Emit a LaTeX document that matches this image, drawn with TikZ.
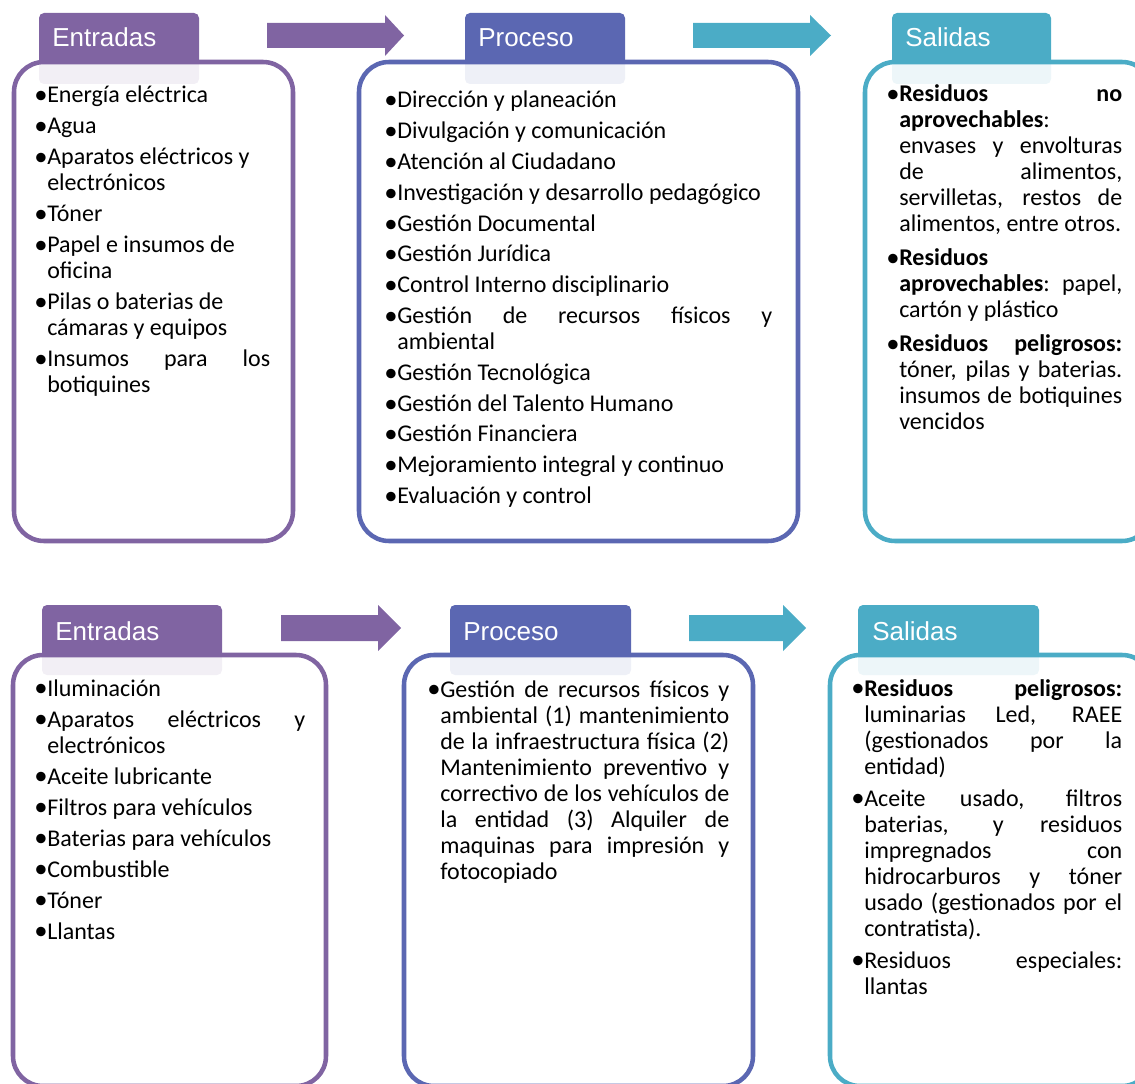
\documentclass[tikz,border=0pt]{standalone}
\usepackage{fontspec}
\setmainfont{Carlito}
\newfontfamily\tabfont{Liberation Sans}
\usepackage{tikz}

\definecolor{entcol}{HTML}{8064A2}
\definecolor{procol}{HTML}{5B67B2}
\definecolor{salcol}{HTML}{4BACC6}

\newcommand{\vineta}{\makebox[5.6pt][c]{\raisebox{-0.7pt}{\fontsize{20}{20}\selectfont •}}}
\newcommand{\itm}[1]{\par\hangindent=7.5pt\hangafter=1\noindent\makebox[7.5pt][l]{\vineta}#1}
\newcommand{\lista}[3]{\parbox[t]{#1}{\parindent=0pt\parskip=#2\relax
  \tolerance=10000\hbadness=10000\hyphenpenalty=10000\exhyphenpenalty=10000 #3}}

\tikzset{
  tabbox/.style={fill=#1, rounded corners=3.75pt},
  listbox/.style={draw=#1, line width=3.4pt, fill=white, fill opacity=0.9, rounded corners=22.5pt},
  tablabel/.style={anchor=base west, inner sep=0pt, text=white, font=\tabfont\fontsize{19.5}{23}\selectfont},
  itemlist/.style={anchor=base west, inner sep=0pt, font=\fontsize{18}{19.5}\selectfont},
}

\begin{document}
\begin{tikzpicture}[x=0.75pt,y=-0.75pt]
	\useasboundingbox (0,0) rectangle (1135,1084);
	\clip (0,0) rectangle (1135,1084);
	% pestanas
	\foreach \xa/\xb/\ya/\yb/\c in {39/199/13/84/entcol, 465/625/13/84/procol, 892/1051/13/84/salcol,
		42/222/605/675/entcol, 450/631/605/675/procol, 858/1039/605/675/salcol}
	{
		\fill[tabbox=\c] (\xa,\ya) rectangle (\xb,\yb);
	}
	% recuadros
	\foreach \xa/\xb/\ya/\yb/\c in {14/293/62/541/entcol, 359/798/62/541/procol, 865/1152/62/541/salcol,
		13/326/655/1086/entcol, 404/753/655/1086/procol, 830/1152/655/1086/salcol}
	{
		\filldraw[listbox=\c] (\xa,\ya) rectangle (\xb,\yb);
	}
	% flechas
	\foreach \xa/\xb/\xc/\ym/\s/\h/\c in {267/385/404/35.5/12.5/20.5/entcol, 693/810/831/35.5/12.5/20.5/salcol,
		281/378/401/628/13/23/entcol, 689/783/806/628/13/23/salcol}
	{
		\fill[\c] (\xa,\ym-\s) -- (\xb,\ym-\s) -- (\xb,\ym-\h) -- (\xc,\ym) -- (\xb,\ym+\h) -- (\xb,\ym+\s) -- (\xa,\ym+\s) -- cycle;
	}
	% titulos
	\node[tablabel] (entA) at (52,47) {Entradas};
	\node[tablabel] (proA) at (478,47) {Proceso};
	\node[tablabel] (salA) at (905,47) {Salidas};
	\node[tablabel] (entB) at (55,640) {Entradas};
	\node[tablabel] (proB) at (463,640) {Proceso};
	\node[tablabel] (salB) at (872,640) {Salidas};
	% listas
	\node[itemlist] (entListA) at (37,103) {\lista{174.75pt}{3.75pt}{%
		\itm{Energía eléctrica}
		\itm{Agua}
		\itm{Aparatos eléctricos y\newline electrónicos}
		\itm{Tóner}
		\itm{Papel e insumos de\newline oficina}
		\itm{Pilas o baterias de\newline cámaras y equipos}
		\itm{Insumos para los\linebreak botiquines}}};
	\node[itemlist] (proListA) at (387,108) {\lista{288.75pt}{3.6pt}{%
		\itm{Dirección y planeación}
		\itm{Divulgación y comunicación}
		\itm{Atención al Ciudadano}
		\itm{Investigación y desarrollo pedagógico}
		\itm{Gestión Documental}
		\itm{Gestión Jurídica}
		\itm{Control Interno disciplinario}
		\itm{Gestión de recursos físicos y\linebreak ambiental}
		\itm{Gestión Tecnológica}
		\itm{Gestión del Talento Humano}
		\itm{Gestión Financiera}
		\itm{Mejoramiento integral y continuo}
		\itm{Evaluación y control}}};
	\node[itemlist] (salListA) at (889,102) {\lista{174.75pt}{6pt}{%
		\itm{\textbf{Residuos no}\linebreak\textbf{aprovechables}:\newline envases y envolturas\linebreak de alimentos,\linebreak servilletas, restos de\linebreak alimentos, entre otros.}
		\itm{\textbf{Residuos}\newline\textbf{aprovechables}: papel,\linebreak cartón y plástico}
		\itm{\textbf{Residuos peligrosos:}\linebreak tóner, pilas y baterias.\linebreak insumos de botiquines\linebreak vencidos}}};
	\node[itemlist] (entListB) at (37,696) {\lista{201pt}{3.75pt}{%
		\itm{Iluminación}
		\itm{Aparatos eléctricos y\linebreak electrónicos}
		\itm{Aceite lubricante}
		\itm{Filtros para vehículos}
		\itm{Baterias para vehículos}
		\itm{Combustible}
		\itm{Tóner}
		\itm{Llantas}}};
	\node[itemlist] (proListB) at (430,697) {\lista{224.25pt}{3.75pt}{%
		\itm{Gestión de recursos físicos y\linebreak ambiental (1) mantenimiento\linebreak de la infraestructura física (2)\linebreak Mantenimiento preventivo y\linebreak correctivo de los vehículos de\linebreak la entidad (3) Alquiler de\linebreak maquinas para impresión y\linebreak fotocopiado}}};
	\node[itemlist] (salListB) at (854,696) {\lista{201pt}{4.5pt}{%
		\itm{\textbf{Residuos peligrosos:}\linebreak luminarias Led, RAEE\linebreak (gestionados por la\linebreak entidad)}
		\itm{Aceite usado, filtros\linebreak baterias, y residuos\linebreak impregnados con\linebreak hidrocarburos y tóner\linebreak usado (gestionados por el\linebreak contratista).}
		\itm{Residuos especiales:\linebreak llantas}}};
\end{tikzpicture}
\end{document}
